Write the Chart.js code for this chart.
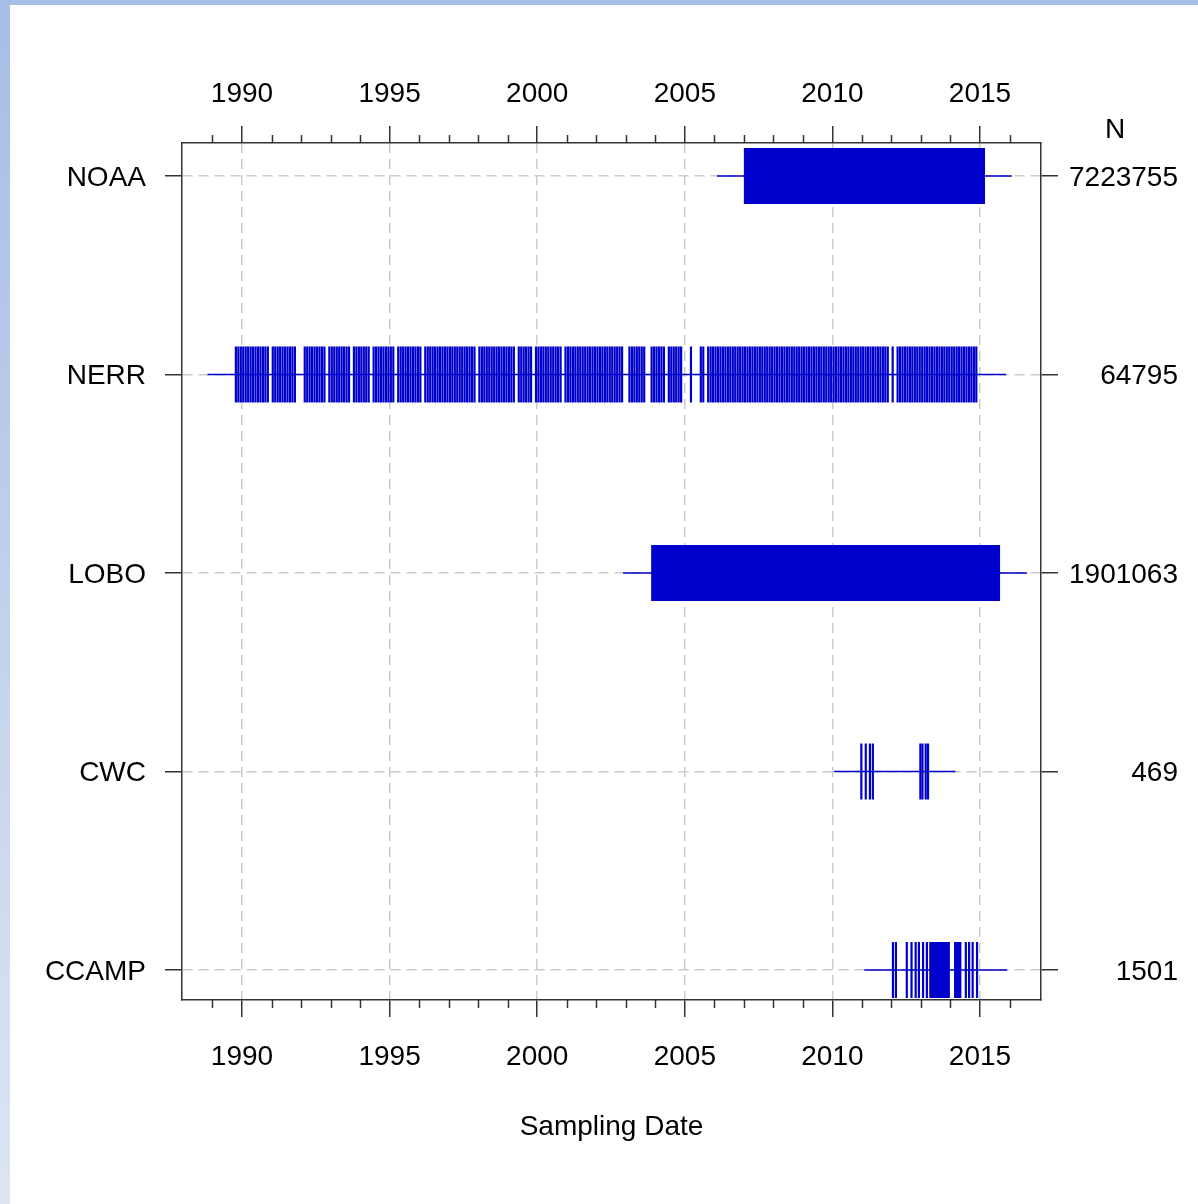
<!DOCTYPE html>
<html>
<head>
<meta charset="utf-8">
<script src="https://cdn.jsdelivr.net/npm/chart.js@4"></script>
<style>
  html, body { margin: 0; padding: 0; background: #fff; }
  #topband { position: absolute; left: 0; top: 0; width: 1198px; height: 5px; background: #a8bfe7; }
  #leftband { position: absolute; left: 0; top: 0; width: 10px; height: 1204px;
    background: linear-gradient(to bottom, #a6bde6, #dde5f2); }
  #chart { position: absolute; left: 0; top: 0; }
</style>
</head>
<body>
<div id="topband"></div>
<div id="leftband"></div>
<canvas id="chart" width="1198" height="1204"></canvas>
<script>
// sources, bottom to top on the y axis (1 = CCAMP ... 5 = NOAA)
const sources = ["CCAMP", "CWC", "LOBO", "NERR", "NOAA"];
const counts = ["1501", "469", "1901063", "64795", "7223755"];
const yearTicks = [1990, 1995, 2000, 2005, 2010, 2015];
const minorYears = [1989, 1991, 1992, 1993, 1994, 1996, 1997, 1998, 1999, 2001, 2002, 2003, 2004,
  2006, 2007, 2008, 2009, 2011, 2012, 2013, 2014, 2016];

// overall date span drawn as a thin line for each source [start, end]
const spanCCAMP = [2011.08, 2015.92];
const spanCWC = [2010.05, 2014.17];
const spanLOBO = [2002.91, 2016.59];
const spanNERR = [1988.83, 2015.88];
const spanNOAA = [2006.09, 2016.08];

// continuous sampling, solid blocks [start, end]
const blockNOAA = [2007.0, 2015.17];
const blockLOBO = [2003.86, 2015.68];
const blockCCAMP1 = [2013.28, 2013.98];
const blockCCAMP2 = [2014.12, 2014.37];

// individual sampling dates (decimal years)
const datesCWC = [2010.98, 2011.13, 2011.27, 2011.37, 2012.98, 2013.05, 2013.16, 2013.24];
const datesCCAMP = [2012.05, 2012.15, 2012.52, 2012.68, 2012.82, 2012.93, 2013.07, 2013.2,
  2014.52, 2014.63, 2014.75, 2014.9];

// NERR: months sampled in each year
const nerrYears = [1989, 1990, 1991, 1992, 1993, 1994, 1995, 1996, 1997, 1998, 1999, 2000, 2001,
  2002, 2003, 2004, 2005, 2006, 2007, 2008, 2009, 2010, 2011, 2012, 2013, 2014];
const nerrMonths = [
  [10, 11, 12],
  [1, 2, 3, 4, 5, 6, 7, 8, 9, 10, 11],
  [1, 2, 3, 4, 5, 6, 7, 8, 9, 10],
  [2, 3, 4, 5, 6, 7, 8, 9, 10, 12],
  [1, 2, 3, 4, 5, 6, 7, 8, 10, 11, 12],
  [1, 2, 3, 4, 6, 7, 8, 9, 10, 11, 12],
  [1, 2, 4, 5, 6, 7, 8, 9, 10, 11, 12],
  [1, 3, 4, 5, 6, 7, 8, 9, 10, 11, 12],
  [1, 2, 3, 4, 5, 6, 7, 8, 9, 10, 11],
  [1, 2, 3, 4, 5, 6, 7, 8, 9, 10, 11, 12],
  [1, 2, 3, 5, 6, 7, 8, 9, 10, 12],
  [1, 2, 3, 4, 5, 6, 7, 8, 9, 10, 12],
  [1, 2, 3, 4, 5, 6, 7, 8, 9, 10, 11, 12],
  [1, 2, 3, 4, 5, 6, 7, 8, 9, 10, 11],
  [2, 3, 4, 5, 6, 7, 8, 11, 12],
  [1, 2, 3, 4, 6, 7, 8, 9, 10, 11],
  [3, 7, 8, 10, 11, 12],
  [1, 2, 3, 4, 5, 6, 7, 8, 9, 10, 11, 12],
  [1, 2, 3, 4, 5, 6, 7, 8, 9, 10, 11, 12],
  [1, 2, 3, 4, 5, 6, 7, 8, 9, 10, 11, 12],
  [1, 2, 3, 4, 5, 6, 7, 8, 9, 10, 11, 12],
  [1, 2, 3, 4, 5, 6, 7, 8, 9, 10, 11, 12],
  [1, 2, 3, 4, 5, 6, 7, 8, 9, 10, 11],
  [1, 3, 4, 5, 6, 7, 8, 9, 10, 11, 12],
  [1, 2, 3, 4, 5, 6, 7, 8, 9, 10, 11, 12],
  [1, 2, 3, 4, 5, 6, 7, 8, 9, 10, 11]
];

const BLUE = "#0000CD";
const AXIS = "#333333";
const FONT = "'Liberation Sans', Arial, sans-serif";

const datesNERR = [];
nerrYears.forEach(function(yr, i) {
  nerrMonths[i].forEach(function(m) { datesNERR.push(yr + (m - 0.5) / 12); });
});

function rowY(name) { return sources.indexOf(name) + 1; }

function spanSet(span, name) {
  return { type: 'line', data: [{x: span[0], y: rowY(name)}, {x: span[1], y: rowY(name)}],
    borderColor: BLUE, borderWidth: 1.6, pointRadius: 0 };
}
function blockSet(block, name) {
  return { type: 'line', data: [{x: block[0], y: rowY(name)}, {x: block[1], y: rowY(name)}],
    borderColor: BLUE, borderWidth: 56, borderCapStyle: 'butt', pointRadius: 0 };
}
function tickSet(dates, name) {
  return { type: 'scatter', data: dates.map(function(d) { return {x: d, y: rowY(name)}; }),
    pointStyle: 'line', rotation: 90, radius: 28, borderColor: BLUE, borderWidth: 2.2,
    backgroundColor: BLUE };
}

const xMin = 1987.967, xMax = 2017.066;
const yMin = 0.849, yMax = 5.166;

const minorTicks = {
  id: 'minorTicks',
  afterDraw: function(chart) {
    const ctx = chart.ctx, a = chart.chartArea, x = chart.scales.x;
    ctx.save();
    ctx.strokeStyle = AXIS;
    ctx.lineWidth = 1.5;
    minorYears.forEach(function(yr) {
      const px = Math.round(x.getPixelForValue(yr)) + 0.5;
      ctx.beginPath();
      ctx.moveTo(px, a.top); ctx.lineTo(px, a.top - 8);
      ctx.moveTo(px, a.bottom); ctx.lineTo(px, a.bottom + 8);
      ctx.stroke();
    });
    ctx.fillStyle = '#000';
    ctx.font = '28px ' + FONT;
    ctx.textAlign = 'center';
    ctx.textBaseline = 'middle';
    ctx.fillText('N', a.right + 74, a.top - 13);
    ctx.restore();
  }
};

function gridOpts(onArea) {
  return { drawOnChartArea: onArea, color: '#cccccc', lineWidth: 1.5, tickLength: 17,
    tickColor: AXIS, tickWidth: 1.5 };
}
function borderOpts() { return { display: true, color: AXIS, width: 1.5, dash: [10, 6] }; }

new Chart(document.getElementById("chart"), {
  type: 'scatter',
  data: {
    datasets: [
      spanSet(spanNOAA, "NOAA"), blockSet(blockNOAA, "NOAA"),
      spanSet(spanNERR, "NERR"), tickSet(datesNERR, "NERR"),
      spanSet(spanLOBO, "LOBO"), blockSet(blockLOBO, "LOBO"),
      spanSet(spanCWC, "CWC"), tickSet(datesCWC, "CWC"),
      spanSet(spanCCAMP, "CCAMP"), blockSet(blockCCAMP1, "CCAMP"), blockSet(blockCCAMP2, "CCAMP"),
      tickSet(datesCCAMP, "CCAMP")
    ]
  },
  options: {
    responsive: false,
    animation: false,
    events: [],
    layout: { padding: { left: 0, top: 0, bottom: 0, right: 20 } },
    plugins: { legend: { display: false }, tooltip: { enabled: false } },
    scales: {
      x: {
        type: 'linear', position: 'bottom', min: xMin, max: xMax,
        afterBuildTicks: function(s) { s.ticks = yearTicks.map(function(v) { return {value: v}; }); },
        afterFit: function(s) { s.height = 204; },
        grid: gridOpts(true), border: borderOpts(),
        ticks: { color: '#000', padding: 23, maxRotation: 0, font: { family: FONT, size: 28 },
          callback: function(v) { return String(v); } },
        title: { display: true, text: 'Sampling Date', color: '#000',
          font: { family: FONT, size: 28 }, padding: { top: 0, bottom: 60 } }
      },
      x2: {
        type: 'linear', position: 'top', min: xMin, max: xMax,
        afterBuildTicks: function(s) { s.ticks = yearTicks.map(function(v) { return {value: v}; }); },
        afterFit: function(s) { s.height = 143; },
        grid: gridOpts(false), border: borderOpts(),
        ticks: { color: '#000', padding: 15, maxRotation: 0, font: { family: FONT, size: 28 },
          callback: function(v) { return String(v); } }
      },
      y: {
        type: 'linear', position: 'left', min: yMin, max: yMax,
        afterBuildTicks: function(s) { s.ticks = sources.map(function(n, i) { return {value: i + 1}; }); },
        afterFit: function(s) { s.width = 182; },
        grid: gridOpts(true), border: borderOpts(),
        ticks: { color: '#000', padding: 19, labelOffset: 2, font: { family: FONT, size: 28 },
          callback: function(v) { return sources[v - 1]; } }
      },
      y2: {
        type: 'linear', position: 'right', min: yMin, max: yMax,
        afterBuildTicks: function(s) { s.ticks = counts.map(function(n, i) { return {value: i + 1}; }); },
        afterFit: function(s) { s.width = 137; },
        grid: gridOpts(false), border: borderOpts(),
        ticks: { color: '#000', padding: 10, labelOffset: 2, crossAlign: 'far', font: { family: FONT, size: 28 },
          callback: function(v) { return counts[v - 1]; } }
      }
    }
  },
  plugins: [minorTicks]
});
</script>
</body>
</html>
